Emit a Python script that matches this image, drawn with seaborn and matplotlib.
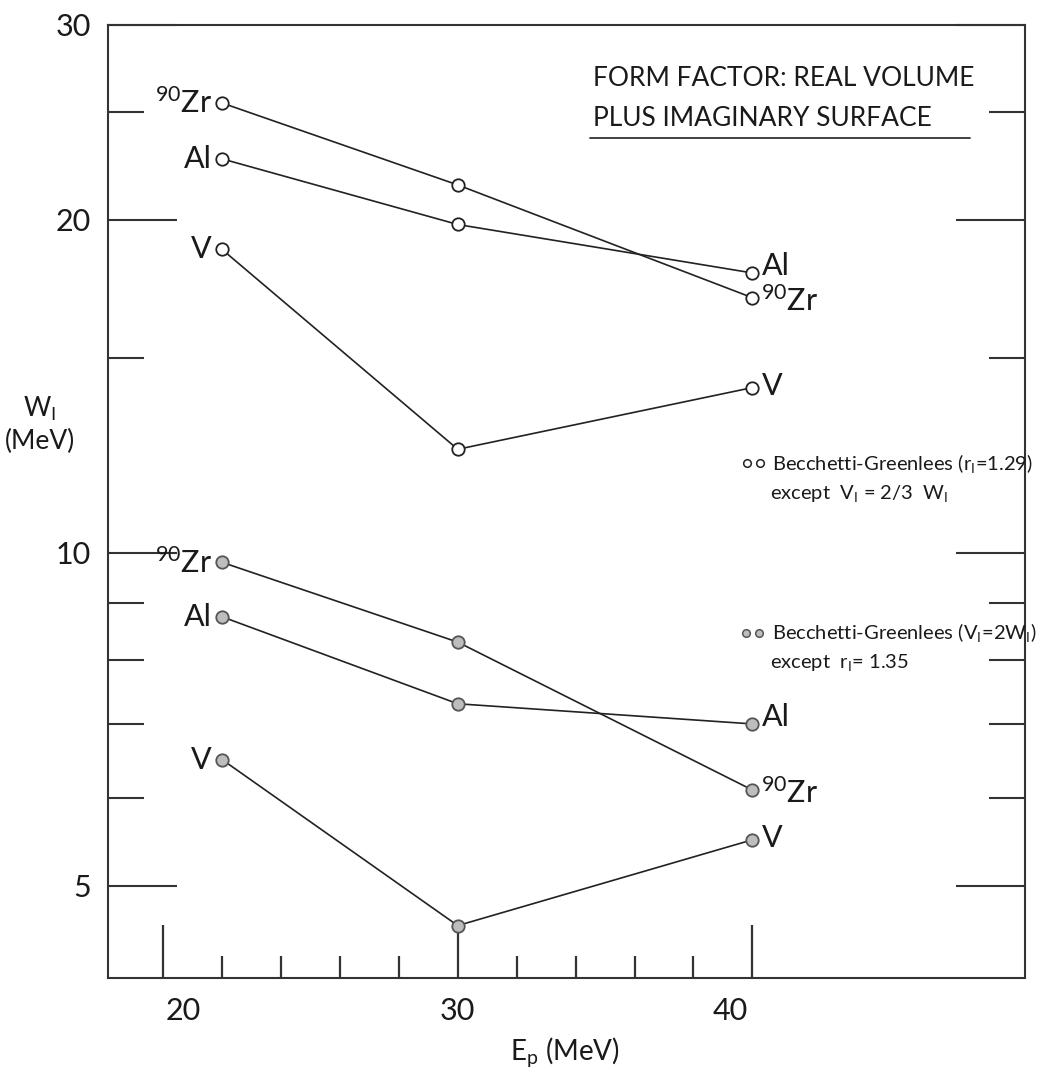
import numpy as np
import pandas as pd
import matplotlib
matplotlib.use("Agg")
from matplotlib import pyplot as plt
from matplotlib import transforms
from matplotlib.ticker import FixedLocator, FixedFormatter, NullFormatter
import seaborn as sns

# values
energies = [22, 30, 40]
elements = ["90Zr", "Al", "V"]
w_surface = {"90Zr": [25.5, 21.5, 17.0],
             "Al": [22.7, 19.8, 17.9],
             "V": [18.8, 12.4, 14.1]}
w_radius = {"90Zr": [9.8, 8.3, 6.1],
            "Al": [8.75, 7.3, 7.0],
            "V": [6.5, 4.6, 5.5]}
y_major = [5, 10, 20, 30]
y_minor = [6, 7, 8, 9, 15, 25]
x_major = [20, 30, 40]
x_minor = [22, 24, 26, 28, 32, 34, 36, 38]

rows = []
for el in elements:
    for e, w in zip(energies, w_surface[el]):
        rows.append(dict(Ep=e, W=w, element=el, set="r129"))
    for e, w in zip(energies, w_radius[el]):
        rows.append(dict(Ep=e, W=w, element=el, set="r135"))
df = pd.DataFrame(rows)
df["series"] = df["element"] + "_" + df["set"]

sns.set_theme(style="ticks")
plt.rcParams["font.family"] = ["Lato", "DejaVu Sans"]
plt.rcParams["mathtext.fontset"] = "custom"
plt.rcParams["mathtext.rm"] = "Lato"
plt.rcParams["mathtext.it"] = "Lato"
plt.rcParams["text.color"] = "#1a1a1a"
ink = "#1a1a1a"

fig = plt.figure(figsize=(10.38, 10.83), dpi=100)
ax = fig.add_axes([0.104, 0.097, 0.8835, 0.880])

sns.lineplot(data=df, x="Ep", y="W", units="series", estimator=None,
             color="#222222", lw=1.2, ax=ax, legend=False)
sns.scatterplot(data=df[df.set == "r129"], x="Ep", y="W", s=80,
                facecolor="white", edgecolor="#222222", linewidth=1.3,
                ax=ax, zorder=3, legend=False)
sns.scatterplot(data=df[df.set == "r135"], x="Ep", y="W", s=80,
                facecolor="#bdbdbd", edgecolor="#555555", linewidth=1.3,
                ax=ax, zorder=3, legend=False)

ax.set_yscale("log")
ax.set_xlim(18.13, 49.25)
ax.set_ylim(4.125, 30.0)
ax.yaxis.set_major_locator(FixedLocator(y_major))
ax.yaxis.set_major_formatter(FixedFormatter([str(v) for v in y_major]))
ax.yaxis.set_minor_locator(FixedLocator(y_minor))
ax.yaxis.set_minor_formatter(NullFormatter())
ax.xaxis.set_major_locator(FixedLocator(x_major))
ax.xaxis.set_minor_locator(FixedLocator(x_minor))
ax.tick_params(axis="y", which="major", direction="in", length=50, width=1.5,
               left=True, right=True, labelsize=22, pad=12,
               color="#333333", labelcolor=ink)
ax.tick_params(axis="y", which="minor", direction="in", length=26, width=1.5,
               left=True, right=True, color="#333333")
ax.tick_params(axis="x", which="major", direction="in", length=38, width=1.6,
               bottom=True, labelsize=22, pad=14,
               color="#333333", labelcolor=ink)
ax.tick_params(axis="x", which="minor", direction="in", length=16, width=1.6,
               bottom=True, color="#333333")
for sp in ax.spines.values():
    sp.set_visible(True)
    sp.set_linewidth(1.5)
    sp.set_color("#333333")
ax.set_xlabel("")
ax.set_ylabel("")

# hand-lettered tick labels sit a little off their ticks
x_shift = [20, 0, -22]
fig.canvas.draw()
for lab, dx in zip(ax.get_xticklabels(), x_shift):
    lab.set_transform(lab.get_transform() +
                      transforms.ScaledTranslation(dx / 100, 0, fig.dpi_scale_trans))

# point labels
lab_kw = dict(textcoords="offset pixels", va="center", fontsize=22, color=ink)
names = {"90Zr": "$^{90}$Zr", "Al": "Al", "V": "V"}
right_dy = {"90Zr": -3, "Al": 7, "V": 2}
for src in (w_surface, w_radius):
    for el in elements:
        ax.annotate(names[el], (energies[0], src[el][0]), xytext=(-10, 0),
                    ha="right", **lab_kw)
        ax.annotate(names[el], (energies[-1], src[el][-1]),
                    xytext=(9, right_dy[el]), ha="left", **lab_kw)

# title box
ax.text(0.529, 0.944, "FORM FACTOR: REAL VOLUME", transform=ax.transAxes,
        fontsize=19, va="center")
ax.text(0.529, 0.902, "PLUS IMAGINARY SURFACE", transform=ax.transAxes,
        fontsize=19, va="center")
ax.plot([0.526, 0.940], [0.881, 0.881], transform=ax.transAxes,
        color="#333333", lw=1.3)

# legend notes
leg_kw = dict(transform=ax.transAxes, fontsize=14.5, va="center")
ax.scatter([0.697, 0.711], [0.540, 0.540], s=30, transform=ax.transAxes,
           facecolor="white", edgecolor="#222222", linewidth=1.1)
ax.text(0.724, 0.540, "Becchetti-Greenlees (r$_\\mathrm{I}$=1.29)", **leg_kw)
ax.text(0.722, 0.508, "except  V$_\\mathrm{I}$ = 2/3  W$_\\mathrm{I}$", **leg_kw)
ax.scatter([0.696, 0.710], [0.362, 0.362], s=30, transform=ax.transAxes,
           facecolor="#bdbdbd", edgecolor="#555555", linewidth=1.1)
ax.text(0.724, 0.362, "Becchetti-Greenlees (V$_\\mathrm{I}$=2W$_\\mathrm{I}$)", **leg_kw)
ax.text(0.722, 0.331, "except  r$_\\mathrm{I}$= 1.35", **leg_kw)

fig.text(0.0385, 0.608, "W$_\\mathrm{I}$\n(MeV)", ha="center", va="center",
         fontsize=19, linespacing=1.3)
fig.text(0.544, 0.029, "E$_\\mathrm{p}$ (MeV)", ha="center", va="center",
         fontsize=20)

fig.savefig("out.png", dpi=100)
